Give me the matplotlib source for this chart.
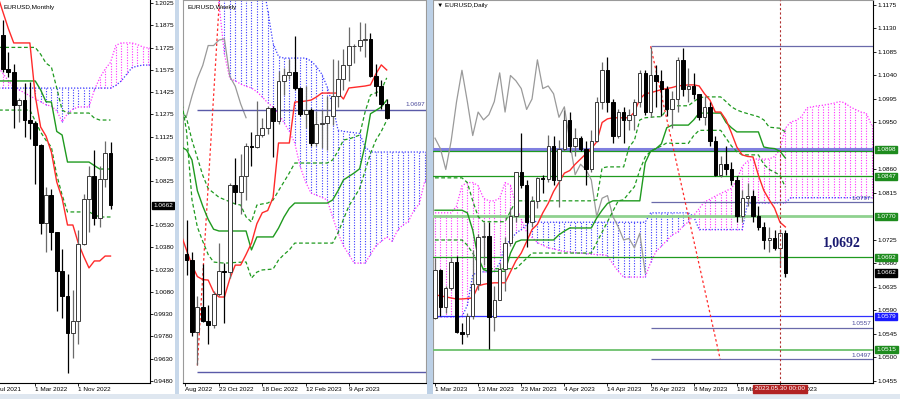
import numpy as np
import matplotlib
matplotlib.use("Agg")
import matplotlib.pyplot as plt
import matplotlib.transforms as mtransforms
from matplotlib.patches import Rectangle

plt.rcParams['font.family'] = ['Liberation Sans', 'DejaVu Sans']

# ======================= MONTHLY (bar 0 = Sep 2021) =======================
m_open  = [1.1807, 1.1578, 1.1558, 1.1338, 1.1370, 1.1235, 1.1218, 1.1067, 1.0545, 1.0733, 1.0484,
           1.0220, 1.0054, 0.9802, 0.9882, 1.0405, 1.0705, 1.0863, 1.0576, 1.0839, 1.1016]
m_high  = [1.1909, 1.1692, 1.1616, 1.1386, 1.1483, 1.1495, 1.1233, 1.1076, 1.0787, 1.0774, 1.0486,
           1.0369, 1.0198, 1.0094, 1.0497, 1.0736, 1.0929, 1.1033, 1.0930, 1.1095, 1.1092]
m_low   = [1.1563, 1.1524, 1.1186, 1.1222, 1.1121, 1.1106, 1.0806, 1.0470, 1.0349, 1.0359, 0.9952,
           0.9901, 0.9536, 0.9632, 0.9730, 1.0393, 1.0483, 1.0533, 1.0516, 1.0788, 1.0635]
m_close = [1.1578, 1.1558, 1.1338, 1.1370, 1.1235, 1.1218, 1.1067, 1.0545, 1.0733, 1.0484, 1.0220,
           1.0054, 0.9802, 0.9882, 1.0405, 1.0705, 1.0863, 1.0576, 1.0839, 1.1016, 1.0662]
# indicator lines for bars -1..20
m_tenkan = [1.2074, 1.1963, 1.1852, 1.1756, 1.1756, 1.1756, 1.1756, 1.1400, 1.1190, 1.1129, 1.1021,
            1.0820, 1.0710, 1.0530, 1.0530, 1.0409, 1.0320, 1.0241, 1.0288, 1.0288, 1.0321, 1.0321]
m_kijun = [1.1500, 1.1500, 1.1500, 1.1500, 1.1500, 1.1500, 1.1500, 1.1500, 1.1440, 1.1360, 1.1358,
           1.1160, 1.1136, 1.0954, 1.0954, 1.0954, 1.0954, 1.0954, 1.0930, 1.0907, 1.0907, 1.0907]
m_dash_hi = [1.1726, 1.1726, 1.1726, 1.1726, 1.1726, 1.1726, 1.1726, 1.1726, 1.1680, 1.1620, 1.1594,
             1.1452, 1.1304, 1.1284, 1.1284, 1.1284, 1.1284, 1.1284, 1.1250, 1.1237, 1.1237, 1.1237]
m_dash_lo = [1.1304, 1.1304, 1.1304, 1.1304, 1.1304, 1.1304, 1.1304, 1.1230, 1.1156, 1.1100, 1.1055,
             1.0867, 1.0732, 1.0618, 1.0618, 1.0618, 1.0618, 1.0618, 1.0600, 1.0584, 1.0584, 1.0584]
# cloud for bars -1..28
m_span_a = [1.1600, 1.1550, 1.1500, 1.1460, 1.1440, 1.1420, 1.1400, 1.1380, 1.1360, 1.1340, 1.1330,
            1.1300, 1.1224, 1.1280, 1.1310, 1.1325, 1.1325, 1.1325, 1.1440, 1.1520, 1.1580, 1.1625,
            1.1740, 1.1756, 1.1756, 1.1756, 1.1745, 1.1729, 1.1722, 1.1720]
m_span_b = [1.1452, 1.1452, 1.1452, 1.1452, 1.1452, 1.1452, 1.1452, 1.1452, 1.1452, 1.1452, 1.1452,
            1.1452, 1.1452, 1.1452, 1.1452, 1.1452, 1.1452, 1.1452, 1.1452, 1.1452, 1.1452, 1.1452,
            1.1470, 1.1500, 1.1545, 1.1590, 1.1600, 1.1607, 1.1607, 1.1607]
m_yticks = [1.2025, 1.1875, 1.1725, 1.1575, 1.1425, 1.1275, 1.1125, 1.0975, 1.0825, 1.0530,
            1.0380, 1.0230, 1.0080, 0.9930, 0.9780, 0.9630, 0.9480]
m_xtick_labels = ["Jul 2021", "1 Mar 2022", "1 Nov 2022"]
m_xtick_bars = [-1.12, 6, 14]

# ======================= WEEKLY (bar 0 = week of 23 Oct 2022) =======================
w_open  = [1.0041, 1.0014, 0.9690, 0.9802, 0.9740, 0.9722, 0.9861, 0.9965, 0.9959, 1.0355, 1.0325,
           1.0398, 1.0535, 1.0530, 1.0585, 1.0615, 1.0705, 1.0645, 1.0830, 1.0855, 1.0870, 1.0795,
           1.0680, 1.0695, 1.0546, 1.0634, 1.0640, 1.0670, 1.0760, 1.0840, 1.0900, 1.0990, 1.0990,
           1.1015, 1.1020, 1.0850, 1.0805, 1.0725]
w_high  = [1.0198, 1.0051, 0.9853, 0.9999, 0.9809, 0.9876, 1.0094, 1.0000, 1.0364, 1.0481, 1.0497,
           1.0545, 1.0595, 1.0737, 1.0660, 1.0713, 1.0713, 1.0875, 1.0887, 1.0929, 1.1033, 1.0802,
           1.0805, 1.0705, 1.0692, 1.0695, 1.0760, 1.0930, 1.0926, 1.0973, 1.1075, 1.0998, 1.1095,
           1.1092, 1.1045, 1.0905, 1.0835, 1.0746]
w_low   = [0.9945, 0.9668, 0.9536, 0.9735, 0.9632, 0.9705, 0.9850, 0.9730, 0.9935, 1.0270, 1.0223,
           1.0290, 1.0443, 1.0525, 1.0575, 1.0590, 1.0483, 1.0632, 1.0766, 1.0836, 1.0790, 1.0669,
           1.0613, 1.0533, 1.0533, 1.0524, 1.0516, 1.0630, 1.0712, 1.0788, 1.0830, 1.0910, 1.0965,
           1.0940, 1.0848, 1.0760, 1.0702, 1.0655]
w_close = [1.0014, 0.9690, 0.9802, 0.9740, 0.9722, 0.9861, 0.9965, 0.9959, 1.0355, 1.0325, 1.0398,
           1.0535, 1.0530, 1.0585, 1.0615, 1.0705, 1.0645, 1.0830, 1.0855, 1.0870, 1.0795, 1.0680,
           1.0695, 1.0546, 1.0634, 1.0640, 1.0670, 1.0760, 1.0840, 1.0900, 1.0990, 1.0990, 1.1015,
           1.1020, 1.0850, 1.0805, 1.0725, 1.0662]
# lines for bars -7..31
w_tenkan = [1.0130, 1.0060, 0.9992, 0.9940, 0.9926, 0.9924, 0.9870, 0.9847, 0.9847, 0.9930, 0.9992,
            0.9992, 1.0040, 1.0092, 1.0180, 1.0230, 1.0240, 1.0300, 1.0547, 1.0547, 1.0547, 1.0733,
            1.0735, 1.0738, 1.0742, 1.0756, 1.0774, 1.0774, 1.0774, 1.0774, 1.0747, 1.0797, 1.0800,
            1.0803, 1.0806, 1.0811, 1.0861, 1.0902, 1.0879]
w_kijun = [1.0530, 1.0515, 1.0470, 1.0330, 1.0260, 1.0200, 1.0155, 1.0147, 1.0147, 1.0147, 1.0147,
           1.0147, 1.0147, 1.0061, 1.0120, 1.0120, 1.0120, 1.0120, 1.0160, 1.0210, 1.0250, 1.0274,
           1.0274, 1.0274, 1.0274, 1.0274, 1.0274, 1.0274, 1.0288, 1.0330, 1.0379, 1.0395, 1.0411,
           1.0430, 1.0538, 1.0680, 1.0695, 1.0711, 1.0742]
w_dash_hi = [1.0700, 1.0660, 1.0560, 1.0480, 1.0400, 1.0340, 1.0320, 1.0300, 1.0290, 1.0280, 1.0270,
             1.0265, 1.0211, 1.0188, 1.0265, 1.0270, 1.0274, 1.0288, 1.0330, 1.0370, 1.0411, 1.0456,
             1.0456, 1.0456, 1.0456, 1.0456, 1.0456, 1.0456, 1.0470, 1.0510, 1.0561, 1.0565, 1.0574,
             1.0583, 1.0688, 1.0765, 1.0775, 1.0788, 1.0843]
w_dash_lo = [1.0750, 1.0600, 1.0290, 1.0165, 1.0100, 1.0040, 1.0006, 1.0003, 1.0001, 1.0002, 1.0004,
             1.0005, 1.0006, 0.9933, 0.9960, 0.9970, 0.9972, 0.9974, 1.0015, 1.0040, 1.0061, 1.0092,
             1.0092, 1.0092, 1.0092, 1.0092, 1.0092, 1.0092, 1.0092, 1.0138, 1.0200, 1.0260, 1.0300,
             1.0340, 1.0420, 1.0500, 1.0560, 1.0600, 1.0650]
# chikou for bars -7..5
w_chikou = [1.0640, 1.0670, 1.0760, 1.0840, 1.0900, 1.0990, 1.0990, 1.1015, 1.1020, 1.0850, 1.0805,
            1.0725, 1.0662]
# cloud for bars -7..39
w_span_a = [1.1400, 1.1400, 1.1400, 1.1400, 1.1400, 1.1350, 1.1300, 1.1180, 1.0950, 1.0840, 1.0830,
            1.0815, 1.0805, 1.0797, 1.0780, 1.0756, 1.0730, 1.0710, 1.0680, 1.0640, 1.0600, 1.0547,
            1.0440, 1.0370, 1.0320, 1.0310, 1.0300, 1.0288, 1.0211, 1.0138, 1.0080, 1.0040, 1.0001,
            1.0001, 1.0001, 1.0040, 1.0080, 1.0100, 1.0120, 1.0100, 1.0150, 1.0175, 1.0190, 1.0240,
            1.0270, 1.0370, 1.0400]
w_span_b = [1.1300, 1.1300, 1.1300, 1.1300, 1.1300, 1.1300, 1.1300, 1.1300, 1.1300, 1.1300, 1.1300,
            1.1300, 1.1300, 1.1300, 1.1300, 1.1300, 1.1150, 1.1000, 1.0940, 1.0933, 1.0933, 1.0933,
            1.0933, 1.0933, 1.0920, 1.0895, 1.0860, 1.0802, 1.0720, 1.0606, 1.0600, 1.0597, 1.0594,
            1.0590, 1.0530, 1.0506, 1.0506, 1.0506, 1.0506, 1.0506, 1.0506, 1.0506, 1.0506, 1.0506,
            1.0506, 1.0506, 1.0506]
w_level = 1.0697
w_low_level = 0.9505
w_xtick_labels = ["Aug 2022", "23 Oct 2022", "18 Dec 2022", "12 Feb 2023", "9 Apr 2023"]
w_xtick_bars = [-6.3, 0, 8, 16, 24]

# ======================= DAILY (bar 0 = 1 Mar 2023) =======================
d_open = [1.0576, 1.0668, 1.0596, 1.0634, 1.0683, 1.0549, 1.0545, 1.0580, 1.0641, 1.0730,
          1.0732, 1.0577, 1.0610, 1.0670, 1.0720, 1.0770, 1.0855, 1.0830, 1.0760, 1.0800,
          1.0843, 1.0842, 1.0905, 1.0840, 1.0900, 1.0955, 1.0905, 1.0920, 1.0900, 1.0860,
          1.0915, 1.0990, 1.1050, 1.0990, 1.0925, 1.0970, 1.0955, 1.0965, 1.0990, 1.1045,
          1.0970, 1.1040, 1.1030, 1.1015, 1.0975, 1.0995, 1.1070, 1.1015, 1.1020, 1.1005,
          1.0960, 1.0980, 1.0915, 1.0850, 1.0870, 1.0860, 1.0840, 1.0770, 1.0805, 1.0810,
          1.0770, 1.0750, 1.0725, 1.0728, 1.0710, 1.0738]
d_high = [1.0691, 1.0670, 1.0637, 1.0693, 1.0694, 1.0566, 1.0585, 1.0706, 1.0736, 1.0760,
          1.0759, 1.0637, 1.0680, 1.0730, 1.0787, 1.0855, 1.0930, 1.0840, 1.0810, 1.0845,
          1.0850, 1.0926, 1.0925, 1.0917, 1.0973, 1.0970, 1.0940, 1.0925, 1.0915, 1.0935,
          1.0998, 1.1065, 1.1075, 1.0995, 1.0975, 1.0980, 1.0975, 1.0995, 1.1050, 1.1050,
          1.1095, 1.1060, 1.1050, 1.1020, 1.1010, 1.1075, 1.1092, 1.1055, 1.1045, 1.1005,
          1.1000, 1.0990, 1.0925, 1.0885, 1.0905, 1.0875, 1.0847, 1.0820, 1.0835, 1.0820,
          1.0790, 1.0760, 1.0750, 1.0745, 1.0746, 1.0745]
d_low = [1.0573, 1.0579, 1.0585, 1.0630, 1.0547, 1.0525, 1.0540, 1.0573, 1.0630, 1.0678,
         1.0516, 1.0551, 1.0610, 1.0628, 1.0713, 1.0760, 1.0825, 1.0712, 1.0750, 1.0786,
         1.0815, 1.0836, 1.0830, 1.0788, 1.0895, 1.0893, 1.0886, 1.0895, 1.0830, 1.0855,
         1.0912, 1.0975, 1.0970, 1.0910, 1.0920, 1.0910, 1.0935, 1.0935, 1.0980, 1.0965,
         1.0960, 1.0980, 1.0962, 1.0962, 1.0940, 1.0970, 1.1000, 1.0990, 1.0995, 1.0955,
         1.0945, 1.0905, 1.0848, 1.0845, 1.0850, 1.0830, 1.0760, 1.0760, 1.0790, 1.0760,
         1.0745, 1.0708, 1.0702, 1.0705, 1.0674, 1.0655]
d_close = [1.0668, 1.0596, 1.0634, 1.0683, 1.0549, 1.0545, 1.0580, 1.0641, 1.0730, 1.0732,
           1.0577, 1.0610, 1.0670, 1.0720, 1.0770, 1.0855, 1.0830, 1.0760, 1.0800, 1.0843,
           1.0842, 1.0905, 1.0840, 1.0900, 1.0955, 1.0905, 1.0920, 1.0900, 1.0860, 1.0915,
           1.0990, 1.1050, 1.0990, 1.0925, 1.0970, 1.0955, 1.0965, 1.0990, 1.1045, 1.0970,
           1.1040, 1.1030, 1.1015, 1.0975, 1.0995, 1.1070, 1.1015, 1.1020, 1.1005, 1.0960,
           1.0980, 1.0915, 1.0850, 1.0870, 1.0860, 1.0840, 1.0770, 1.0805, 1.0810, 1.0770,
           1.0750, 1.0725, 1.0728, 1.0710, 1.0738, 1.0662]
# lines for bars 0..65
d_tenkan = [1.0620, 1.0618, 1.0616, 1.0614, 1.0612, 1.0612, 1.0613, 1.0614, 1.0637, 1.0640,
            1.0642, 1.0643, 1.0643, 1.0643, 1.0664, 1.0685, 1.0700, 1.0722, 1.0745, 1.0755,
            1.0777, 1.0795, 1.0818, 1.0835, 1.0853, 1.0858, 1.0870, 1.0880, 1.0890, 1.0900,
            1.0913, 1.0950, 1.0957, 1.0959, 1.0959, 1.0959, 1.0959, 1.0970, 1.0995, 1.1005,
            1.1007, 1.1010, 1.1013, 1.1015, 1.1017, 1.1020, 1.1021, 1.1022, 1.1022, 1.1020,
            1.1005, 1.0993, 1.0970, 1.0970, 1.0955, 1.0930, 1.0903, 1.0888, 1.0885, 1.0884,
            1.0849, 1.0820, 1.0802, 1.0786, 1.0759, 1.0750]
d_kijun = [1.0782, 1.0782, 1.0782, 1.0782, 1.0782, 1.0782, 1.0777, 1.0744, 1.0692, 1.0668,
           1.0665, 1.0665, 1.0665, 1.0665, 1.0700, 1.0721, 1.0725, 1.0725, 1.0725, 1.0725,
           1.0725, 1.0725, 1.0725, 1.0735, 1.0742, 1.0748, 1.0748, 1.0748, 1.0748, 1.0748,
           1.0767, 1.0782, 1.0795, 1.0800, 1.0800, 1.0800, 1.0800, 1.0800, 1.0800, 1.0873,
           1.0895, 1.0900, 1.0909, 1.0940, 1.0945, 1.0945, 1.0945, 1.0945, 1.0955, 1.0968,
           1.0968, 1.0968, 1.0968, 1.0968, 1.0950, 1.0940, 1.0932, 1.0932, 1.0932, 1.0932,
           1.0932, 1.0903, 1.0901, 1.0900, 1.0895, 1.0882]
d_dash_hi = [1.0844, 1.0844, 1.0844, 1.0844, 1.0844, 1.0844, 1.0835, 1.0800, 1.0770, 1.0760,
             1.0760, 1.0760, 1.0760, 1.0760, 1.0780, 1.0800, 1.0800, 1.0800, 1.0800, 1.0800,
             1.0800, 1.0800, 1.0800, 1.0800, 1.0800, 1.0800, 1.0800, 1.0800, 1.0800, 1.0800,
             1.0802, 1.0863, 1.0865, 1.0865, 1.0865, 1.0865, 1.0903, 1.0916, 1.0955, 1.0959,
             1.0960, 1.0961, 1.0961, 1.0975, 1.0982, 1.0982, 1.0982, 1.0982, 1.0990, 1.0997,
             1.0999, 1.0999, 1.0999, 1.0999, 1.0990, 1.0980, 1.0974, 1.0970, 1.0967, 1.0964,
             1.0961, 1.0955, 1.0941, 1.0940, 1.0939, 1.0932]
d_dash_lo = [1.0725, 1.0725, 1.0725, 1.0725, 1.0725, 1.0725, 1.0715, 1.0700, 1.0680, 1.0670,
             1.0670, 1.0670, 1.0670, 1.0670, 1.0670, 1.0670, 1.0680, 1.0690, 1.0700, 1.0700,
             1.0700, 1.0700, 1.0700, 1.0700, 1.0700, 1.0700, 1.0700, 1.0700, 1.0700, 1.0700,
             1.0720, 1.0740, 1.0760, 1.0780, 1.0800, 1.0802, 1.0815, 1.0827, 1.0859, 1.0884,
             1.0895, 1.0900, 1.0905, 1.0911, 1.0910, 1.0910, 1.0910, 1.0910, 1.0925, 1.0935,
             1.0935, 1.0935, 1.0935, 1.0935, 1.0920, 1.0905, 1.0894, 1.0888, 1.0888, 1.0888,
             1.0888, 1.0870, 1.0860, 1.0855, 1.0849, 1.0826]
# chikou for bars 0..39
d_chikou = [1.0920, 1.0900, 1.0860, 1.0915, 1.0990, 1.1050, 1.0990, 1.0925, 1.0970, 1.0955,
            1.0965, 1.0990, 1.1045, 1.0970, 1.1040, 1.1030, 1.1015, 1.0975, 1.0995, 1.1070,
            1.1015, 1.1020, 1.1005, 1.0960, 1.0980, 1.0915, 1.0850, 1.0870, 1.0860, 1.0840,
            1.0770, 1.0805, 1.0810, 1.0770, 1.0750, 1.0725, 1.0728, 1.0710, 1.0738, 1.0662]
# cloud for bars 0..81
d_span_a = [1.0777, 1.0777, 1.0777, 1.0777, 1.0790, 1.0829, 1.0835, 1.0835, 1.0829, 1.0805,
            1.0800, 1.0800, 1.0805, 1.0835, 1.0830, 1.0790, 1.0765, 1.0740, 1.0730, 1.0720,
            1.0715, 1.0710, 1.0708, 1.0705, 1.0703, 1.0702, 1.0701, 1.0700, 1.0699, 1.0698,
            1.0697, 1.0697, 1.0695, 1.0679, 1.0665, 1.0654, 1.0654, 1.0654, 1.0654, 1.0654,
            1.0682, 1.0703, 1.0713, 1.0724, 1.0735, 1.0740, 1.0751, 1.0760, 1.0772, 1.0785,
            1.0798, 1.0803, 1.0809, 1.0814, 1.0819, 1.0824, 1.0840, 1.0866, 1.0876, 1.0880,
            1.0880, 1.0880, 1.0880, 1.0885, 1.0898, 1.0939, 1.0951, 1.0954, 1.0961, 1.0978,
            1.0980, 1.0982, 1.0983, 1.0985, 1.0987, 1.0990, 1.0988, 1.0980, 1.0975, 1.0970,
            1.0968, 1.0945]
d_span_b = [1.0578, 1.0578, 1.0578, 1.0578, 1.0578, 1.0578, 1.0600, 1.0658, 1.0664, 1.0664,
            1.0664, 1.0664, 1.0681, 1.0715, 1.0725, 1.0738, 1.0745, 1.0754, 1.0763, 1.0759,
            1.0759, 1.0759, 1.0759, 1.0759, 1.0759, 1.0759, 1.0759, 1.0759, 1.0759, 1.0759,
            1.0759, 1.0759, 1.0759, 1.0759, 1.0759, 1.0759, 1.0759, 1.0759, 1.0759, 1.0759,
            1.0777, 1.0777, 1.0777, 1.0777, 1.0777, 1.0777, 1.0777, 1.0777, 1.0770, 1.0745,
            1.0745, 1.0745, 1.0745, 1.0745, 1.0745, 1.0745, 1.0745, 1.0745, 1.0796, 1.0796,
            1.0796, 1.0796, 1.0796, 1.0796, 1.0796, 1.0796, 1.0806, 1.0806, 1.0806, 1.0806,
            1.0806, 1.0806, 1.0806, 1.0806, 1.0806, 1.0806, 1.0806, 1.0806, 1.0806, 1.0806,
            1.0806, 1.0806]
d_full_levels = [1.0847, 1.0692]
d_level_1898 = 1.0898
d_level_1770 = 1.0770
d_level_1579 = 1.0579
d_level_1515 = 1.0515
d_purple_levels = [1.1096, 1.0797, 1.0557, 1.0497]
d_purple_start = 40
d_diag = ([40, 52.9], [1.1096, 1.0497])
d_cross_bar = 64
# price-scale ticks that are not hidden under the level boxes
d_yticks = [1.1175, 1.1130, 1.1085, 1.1040, 1.0995, 1.0950, 1.0860, 1.0815,
            1.0725, 1.0680, 1.0635, 1.0590, 1.0545, 1.0500, 1.0455]
d_xtick_labels = ["1 Mar 2023", "13 Mar 2023", "23 Mar 2023", "4 Apr 2023", "14 Apr 2023",
                  "26 Apr 2023", "8 May 2023", "18 May 2023", "30 May 2023"]
d_xtick_bars = [0, 8, 16, 24, 32, 40, 48, 56, 64]
big_label = "1,0692"

# ======================= drawing helpers =======================
W, H = 900, 399
fig = plt.figure(figsize=(W / 100, H / 100), dpi=100)
fig.patch.set_facecolor('white')
FS = 4.6
RED = '#ff2a2a'
GREEN = '#1f9a1f'
MAG = '#ff33ff'
BLUE = '#3a3aff'
DOT = (0, (1.0, 1.4))


def px_axes(x0, y0, x1, y1):
    return fig.add_axes([x0 / W, 1 - y1 / H, (x1 - x0) / W, (y1 - y0) / H])


def draw_candles(ax, start, o, h, l, c, width):
    o, h, l, c = map(np.asarray, (o, h, l, c))
    x = np.arange(start, start + len(o))
    up = c >= o
    ax.vlines(x[up], l[up], h[up], color='#6a6a6a', lw=0.9, zorder=6)
    ax.vlines(x[~up], l[~up], h[~up], color='black', lw=0.9, zorder=6)
    ax.bar(x[up], (c - o)[up], bottom=o[up], width=width, color='white',
           edgecolor='#3a3a3a', lw=0.7, zorder=7)
    ax.bar(x[~up], (o - c)[~up], bottom=c[~up], width=width, color='black',
           edgecolor='black', lw=0.7, zorder=7)


def draw_cloud(ax, start, a, b):
    a, b = np.asarray(a), np.asarray(b)
    x = np.arange(start, start + len(a))
    up = a >= b
    ax.vlines(x[up], b[up], a[up], colors=MAG, linestyles=DOT, lw=0.8, zorder=2)
    ax.vlines(x[~up], a[~up], b[~up], colors=BLUE, linestyles=DOT, lw=0.8, zorder=2)
    ax.plot(x, a, color=MAG, ls=DOT, lw=0.9, zorder=2)
    ax.plot(x, b, color=BLUE, ls=DOT, lw=0.9, zorder=2)


def draw_line(ax, start, vals, **kw):
    x = np.arange(start, start + len(vals))
    ax.plot(x, vals, **kw)


def style_xticks(ax, bars, labels):
    ax.set_xticks(bars, labels)
    for lab in ax.get_xticklabels():
        lab.set_horizontalalignment('left')
    ax.tick_params(axis='x', length=2, width=0.6, pad=1, labelsize=FS)


def right_box(ax, val, txt, fc, axw):
    tr = mtransforms.blended_transform_factory(ax.transAxes, ax.transData)
    ax.text(1 + 3.5 / axw, val, txt, transform=tr, fontsize=FS, color='white',
            va='center', ha='left', clip_on=False, zorder=20,
            bbox=dict(boxstyle='square,pad=0.18', fc=fc, ec=fc))


# ======================= MONTHLY =======================
axM = px_axes(0, 0, 150, 383)
axM.set_xlim((0 - 3) / 5.375, (150 - 3) / 5.375)
axM.set_ylim(1.2025 - 380 / 1485, 1.2025 + 3 / 1485)
draw_cloud(axM, -1, m_span_a, m_span_b)
draw_line(axM, -1, m_dash_hi, color=GREEN, lw=0.9, ls=(0, (3, 2)), zorder=3)
draw_line(axM, -1, m_dash_lo, color=GREEN, lw=0.9, ls=(0, (3, 2)), zorder=3)
draw_line(axM, -1, m_kijun, color=GREEN, lw=1.0, zorder=4)
draw_line(axM, -1, m_tenkan, color=RED, lw=1.0, zorder=4)
draw_candles(axM, 0, m_open, m_high, m_low, m_close, 0.72)
axM.yaxis.tick_right()
axM.set_yticks(m_yticks, [f"{v:.4f}" for v in m_yticks])
axM.tick_params(axis='y', length=2, width=0.6, pad=1, labelsize=FS)
style_xticks(axM, m_xtick_bars[1:], m_xtick_labels[1:])
trM = mtransforms.blended_transform_factory(axM.transData, axM.transAxes)
axM.text(m_xtick_bars[0], -4.2 / 383, m_xtick_labels[0], transform=trM, fontsize=FS,
         ha='left', va='top', clip_on=False)
for s in ['top', 'left']:
    axM.spines[s].set_visible(False)
for s in ['right', 'bottom']:
    axM.spines[s].set_linewidth(0.8)
right_box(axM, m_close[-1], f"{m_close[-1]:.4f}", 'black', 150)
axM.text(3 / 150, 1 - 7 / 383, "EURUSD,Monthly", transform=axM.transAxes, fontsize=FS,
         va='center', ha='left')

# ======================= WEEKLY =======================
axW = px_axes(183, 0, 426, 383)
axW.set_xlim((183 - 219) / 5.41, (426 - 219) / 5.41)
axW.set_ylim(w_level - 273 / 2200, w_level + 110 / 2200)
draw_cloud(axW, -7, w_span_a, w_span_b)
draw_line(axW, -7, w_chikou, color='#999999', lw=0.9, zorder=3)
draw_line(axW, -7, w_dash_hi, color=GREEN, lw=0.9, ls=(0, (3, 2)), zorder=3)
draw_line(axW, -7, w_dash_lo, color=GREEN, lw=0.9, ls=(0, (3, 2)), zorder=3)
draw_line(axW, -7, w_kijun, color=GREEN, lw=1.0, zorder=4)
draw_line(axW, -7, w_tenkan, color=RED, lw=1.0, zorder=4)
axW.hlines(w_level, -4, 40, color='#5a5aa8', lw=1.0, zorder=3)
axW.hlines(w_low_level, -4, 40, color='#5a5aa8', lw=1.0, zorder=3)
axW.plot([-4, 0.2], [0.9536, 1.125], color=RED, lw=0.9, ls=(0, (2, 2)), zorder=3)
draw_candles(axW, -6, w_open, w_high, w_low, w_close, 0.72)
axW.set_yticks([])
style_xticks(axW, w_xtick_bars, w_xtick_labels)
for s in ['top', 'left', 'right']:
    axW.spines[s].set_color('#9a9a9a')
    axW.spines[s].set_linewidth(0.8)
axW.spines['bottom'].set_linewidth(0.8)
axW.text(1 - 1 / 243, w_level + 2.5 / 2200, f"{w_level:.4f}", fontsize=FS, color='#4a4a9a',
         transform=mtransforms.blended_transform_factory(axW.transAxes, axW.transData),
         ha='right', va='bottom')
axW.text(4 / 243, 1 - 7 / 383, "EURUSD,Weekly", transform=axW.transAxes, fontsize=FS,
         va='center', ha='left')

# ======================= DAILY =======================
axD = px_axes(433, 0, 873, 383)
axD.set_xlim((433 - 435) / 5.39, (873 - 435) / 5.39)
axD.set_ylim(1.1175 - 378 / 5222, 1.1175 + 5 / 5222)
draw_cloud(axD, 0, d_span_a, d_span_b)
axD.axhline(d_level_1898 + 0.0002, color='#8080e0', lw=2.2, zorder=3)
axD.axhline(d_level_1898 - 0.0002, color=GREEN, lw=0.9, zorder=3)
for v in d_full_levels:
    axD.axhline(v, color=GREEN, lw=0.9, zorder=3)
axD.axhline(d_level_1770, color='#8fd18f', lw=2.0, zorder=3)
axD.axhline(d_level_1579, color='#3030ff', lw=0.9, zorder=3)
axD.axhline(d_level_1515, color='#6cc06c', lw=1.3, zorder=3)
axD.hlines(d_purple_levels, d_purple_start, 90, color='#6a6aaa', lw=0.9, zorder=3)
draw_line(axD, 0, d_chikou, color='#9a9a9a', lw=0.9, zorder=3)
draw_line(axD, 0, d_dash_hi, color=GREEN, lw=0.9, ls=(0, (3, 2)), zorder=4)
draw_line(axD, 0, d_dash_lo, color=GREEN, lw=0.9, ls=(0, (3, 2)), zorder=4)
draw_line(axD, 0, d_kijun, color=GREEN, lw=1.0, zorder=4)
draw_line(axD, 0, d_tenkan, color=RED, lw=1.0, zorder=5)
axD.plot(d_diag[0], d_diag[1], color=RED, lw=0.9, ls=(0, (2, 2)), zorder=4)
axD.axvline(d_cross_bar, color='#b03030', lw=0.8, ls=(0, (2, 2)), zorder=8)
draw_candles(axD, 0, d_open, d_high, d_low, d_close, 0.62)
axD.yaxis.tick_right()
axD.set_yticks(d_yticks, [f"{v:.4f}" for v in d_yticks])
axD.tick_params(axis='y', length=2, width=0.6, pad=1, labelsize=FS)
style_xticks(axD, d_xtick_bars, d_xtick_labels)
for s in ['top', 'left']:
    axD.spines[s].set_color('#9a9a9a')
    axD.spines[s].set_linewidth(0.8)
for s in ['right', 'bottom']:
    axD.spines[s].set_linewidth(0.8)
trD = mtransforms.blended_transform_factory(axD.transAxes, axD.transData)
for v in d_purple_levels[1:]:
    axD.text(1 - 2 / 440, v + 1.5 / 5222, f"{v:.4f}", transform=trD, fontsize=FS,
             color='#4a4a9a', ha='right', va='bottom')
right_box(axD, d_level_1898, f"{d_level_1898:.4f}", '#1e8c1e', 440)
right_box(axD, d_full_levels[0], f"{d_full_levels[0]:.4f}", '#1e8c1e', 440)
right_box(axD, d_level_1770, f"{d_level_1770:.4f}", '#1e8c1e', 440)
right_box(axD, d_full_levels[1], f"{d_full_levels[1]:.4f}", '#1e8c1e', 440)
right_box(axD, d_close[-1], f"{d_close[-1]:.4f}", 'black', 440)
right_box(axD, d_level_1579, f"{d_level_1579:.4f}", '#1a1aff', 440)
right_box(axD, d_level_1515, f"{d_level_1515:.4f}", '#1e8c1e', 440)
axD.text((842 - 435) / 5.39, 1.1175 - 238 / 5222, big_label, fontsize=10,
         family=['Liberation Serif', 'DejaVu Serif'], fontweight='bold', color='#1a1a70',
         ha='center', va='center', zorder=12)
axD.text(4 / 440, 1 - 6 / 383, "\u25bc EURUSD,Daily", transform=axD.transAxes, fontsize=FS,
         va='center', ha='left')

# crosshair date box
fig.text(780 / W, 1 - 389 / H, "2023.05.30 00:00", fontsize=FS, color='white', ha='center',
         va='center', bbox=dict(boxstyle='square,pad=0.3', fc='#b22222', ec='#b22222'), zorder=30)

# window separators
for (x0, y0, x1, y1, c) in [(175, 0, 179, 394, '#c8d8ea'), (427, 0, 433, 394, '#bcd0e6'),
                            (0, 394, 900, 399, '#dfe7f0')]:
    fig.add_artist(Rectangle((x0 / W, 1 - y1 / H), (x1 - x0) / W, (y1 - y0) / H,
                             transform=fig.transFigure, fc=c, ec='none', zorder=1))

fig.savefig("out.png", dpi=100, facecolor='white')
